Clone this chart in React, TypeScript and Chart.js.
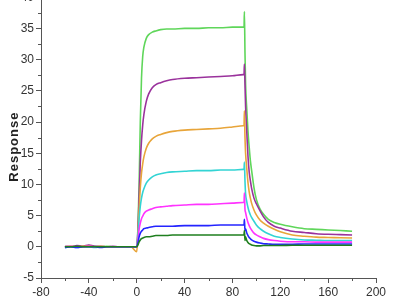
import React, { useEffect, useRef } from "react";
import { Chart, registerables } from "chart.js";

Chart.register(...registerables);

const times = [-60, -55, -50, -45, -40, -35, -30, -25, -20, -15, -10, -5, 0, 1, 2, 3, 4, 5, 6, 8, 10, 13, 16, 20, 25, 30, 40, 50, 60, 70, 80, 89, 89.7, 90, 90.5, 91, 92, 93, 94, 95, 96, 98, 100, 103, 106, 110, 115, 120, 130, 140, 150, 160, 170, 180];

const green = [0, 0.1, 0, 0.1, 0.2, 0.1, 0, 0.1, 0, 0, 0, 0, 0, 3, 10, 20, 27, 30.5, 32, 33.4, 34, 34.4, 34.6, 34.8, 34.9, 34.9, 35.0, 35.0, 35.1, 35.1, 35.2, 35.2, 35.2, 37.7, 31, 26, 22, 18.5, 16, 13.8, 12.3, 9.5, 7.6, 6.1, 5.2, 4.4, 3.9, 3.6, 3.2, 2.9, 2.8, 2.7, 2.6, 2.5];
const purple = [0.1, 0, 0.2, 0.1, 0.3, 0.1, 0.1, 0, 0.1, 0, 0, 0, 0, 2.5, 8, 13.5, 17, 19.5, 21.2, 23.3, 24.5, 25.5, 26, 26.3, 26.6, 26.8, 27, 27.1, 27.2, 27.3, 27.4, 27.6, 27.6, 29.3, 26, 22.5, 18.4, 14.5, 12, 10.6, 9.4, 7.8, 6.9, 5.8, 4.8, 3.9, 3.3, 3.0, 2.5, 2.3, 2.1, 2.0, 1.95, 1.9];
const orange = [0, 0.1, 0, 0.1, 0.1, 0, 0.1, 0, 0, 0, 0, 0, -0.8, 2, 6, 9.5, 11.8, 13.3, 14.4, 15.8, 16.6, 17.3, 17.7, 18.0, 18.3, 18.5, 18.7, 18.8, 18.9, 19.0, 19.2, 19.4, 19.4, 21.8, 17.5, 15, 12.5, 10.3, 8.8, 7.8, 7.0, 5.9, 5.1, 4.3, 3.8, 3.3, 2.8, 2.4, 1.9, 1.7, 1.55, 1.5, 1.45, 1.4];
const cyan = [-0.1, 0, -0.1, 0, 0, -0.1, 0, 0, 0, 0, 0, 0, 0, 1.5, 4.5, 6.5, 7.8, 8.7, 9.3, 10.2, 10.7, 11.2, 11.5, 11.7, 11.9, 12.0, 12.1, 12.2, 12.2, 12.3, 12.3, 12.4, 12.4, 13.6, 10.5, 8.5, 7.2, 6.3, 5.6, 5.1, 4.7, 4.1, 3.5, 2.9, 2.5, 2.1, 1.7, 1.5, 1.25, 1.1, 1.05, 1.0, 1.0, 1.0];
const magenta = [0, 0.1, 0, 0, 0.1, 0, 0, 0, 0, 0, 0, 0, 0, 1, 2.8, 3.8, 4.5, 4.9, 5.3, 5.7, 5.9, 6.1, 6.3, 6.4, 6.5, 6.6, 6.7, 6.8, 6.8, 6.9, 7.0, 7.1, 7.1, 8.6, 6, 5.5, 4.6, 3.9, 3.4, 3.0, 2.7, 2.2, 1.9, 1.6, 1.35, 1.15, 1.0, 0.9, 0.8, 0.8, 0.75, 0.75, 0.75, 0.75];
const blue = [-0.1, 0, -0.1, 0, 0, 0, -0.1, 0, 0, 0, 0, 0, 0, 0.6, 1.6, 2.2, 2.5, 2.7, 2.9, 3.0, 3.1, 3.2, 3.3, 3.3, 3.3, 3.3, 3.4, 3.4, 3.4, 3.5, 3.5, 3.5, 3.5, 4.4, 2.6, 2.9, 2.2, 1.8, 1.5, 1.3, 1.1, 0.9, 0.75, 0.6, 0.5, 0.45, 0.4, 0.4, 0.4, 0.45, 0.45, 0.45, 0.45, 0.45];
const darkGreen = [0, 0, 0.1, 0, 0, 0, 0, 0, 0, 0, 0, 0, 0, 0.3, 0.8, 1.1, 1.3, 1.4, 1.5, 1.6, 1.6, 1.7, 1.8, 1.8, 1.8, 1.9, 1.9, 1.9, 1.9, 1.9, 1.9, 1.9, 2.0, 2.6, 1.0, 1.6, 1.0, 0.7, 0.5, 0.4, 0.3, 0.2, 0.15, 0.15, 0.2, 0.2, 0.2, 0.2, 0.25, 0.25, 0.25, 0.25, 0.25, 0.25];

const seriesList = [
  { name: "c1", values: darkGreen, color: "#1f7f1f" },
  { name: "c2", values: blue, color: "#2424ff" },
  { name: "c3", values: magenta, color: "#ff33ff" },
  { name: "c4", values: cyan, color: "#33d4d4" },
  { name: "c5", values: orange, color: "#e8a53a" },
  { name: "c6", values: purple, color: "#9a329c" },
  { name: "c7", values: green, color: "#5fd65a" },
];

const xTicks = [-80, -40, 0, 40, 80, 120, 160, 200];
const yTicks = [-5, 0, 5, 10, 15, 20, 25, 30, 35, 40];
const yTitle = "Response";

const tickFont = { family: "'Liberation Sans', Arial, sans-serif", size: 12 };

const minorTicks = {
  id: "minorTicks",
  afterDraw(chart: any) {
    const ctx = chart.ctx;
    const xs = chart.scales.x;
    const ys = chart.scales.y;
    ctx.save();
    ctx.strokeStyle = "#555";
    ctx.lineWidth = 1;
    ctx.beginPath();
    for (let i = 0; i < xTicks.length - 1; i++) {
      const v = (xTicks[i] + xTicks[i + 1]) / 2;
      const px = Math.round(xs.getPixelForValue(v)) + 0.5;
      ctx.moveTo(px, ys.bottom);
      ctx.lineTo(px, ys.bottom + 3);
    }
    for (let i = 0; i < yTicks.length - 1; i++) {
      const v = (yTicks[i] + yTicks[i + 1]) / 2;
      const py = Math.round(ys.getPixelForValue(v)) + 0.5;
      ctx.moveTo(xs.left, py);
      ctx.lineTo(xs.left - 3, py);
    }
    ctx.stroke();
    // y-axis title
    const ca = chart.chartArea;
    ctx.translate(14, (ca.top + ca.bottom) / 2 + 9);
    ctx.rotate(-Math.PI / 2);
    ctx.fillStyle = "#222";
    ctx.font = "bold 13px 'Liberation Sans', Arial, sans-serif";
    try {
      (ctx as any).letterSpacing = "1px";
    } catch (e) {}
    ctx.textAlign = "center";
    ctx.textBaseline = "middle";
    ctx.fillText(yTitle, 0, 0);
    ctx.restore();
  },
};

export default function App() {
  const ref = useRef<HTMLCanvasElement | null>(null);
  useEffect(() => {
    document.body.style.margin = "0";
    document.body.style.overflow = "hidden";
    if (!ref.current) return;
    const chart = new Chart(ref.current, {
      type: "line",
      data: {
        datasets: seriesList.map((s) => ({
          label: s.name,
          data: times.map((t, i) => ({ x: t, y: s.values[i] })),
          borderColor: s.color,
          backgroundColor: s.color,
          borderWidth: 1.6,
          pointRadius: 0,
          cubicInterpolationMode: "monotone" as const,
          fill: false,
        })),
      },
      options: {
        animation: false,
        responsive: true,
        maintainAspectRatio: false,
        layout: { padding: { top: 8, right: 24, left: 0, bottom: 0 } },
        plugins: { legend: { display: false }, tooltip: { enabled: false } },
        scales: {
          x: {
            type: "linear",
            min: -80,
            max: 200,
            afterBuildTicks: (scale: any) => {
              scale.ticks = xTicks.map((v) => ({ value: v }));
            },
            afterFit: (scale: any) => {
              scale.height = 22;
            },
            ticks: {
              color: "#333",
              font: tickFont,
              padding: 2,
              maxRotation: 0,
            },
            grid: { drawOnChartArea: false, drawTicks: true, tickLength: 5, color: "#555" },
            border: { color: "#555", width: 1 },
          },
          y: {
            type: "linear",
            min: -5,
            max: 40,
            afterBuildTicks: (scale: any) => {
              scale.ticks = yTicks.map((v) => ({ value: v }));
            },
            afterFit: (scale: any) => {
              scale.width = 41;
            },
            ticks: {
              color: "#333",
              font: tickFont,
              padding: 2,
            },
            grid: { drawOnChartArea: false, drawTicks: true, tickLength: 5, color: "#555" },
            border: { color: "#555", width: 1 },
          },
        },
      },
      plugins: [minorTicks],
    });
    return () => chart.destroy();
  }, []);
  return (
    <div style={{ position: "absolute", left: 0, top: -12, width: 400, height: 312 }}>
      <canvas ref={ref} />
    </div>
  );
}
